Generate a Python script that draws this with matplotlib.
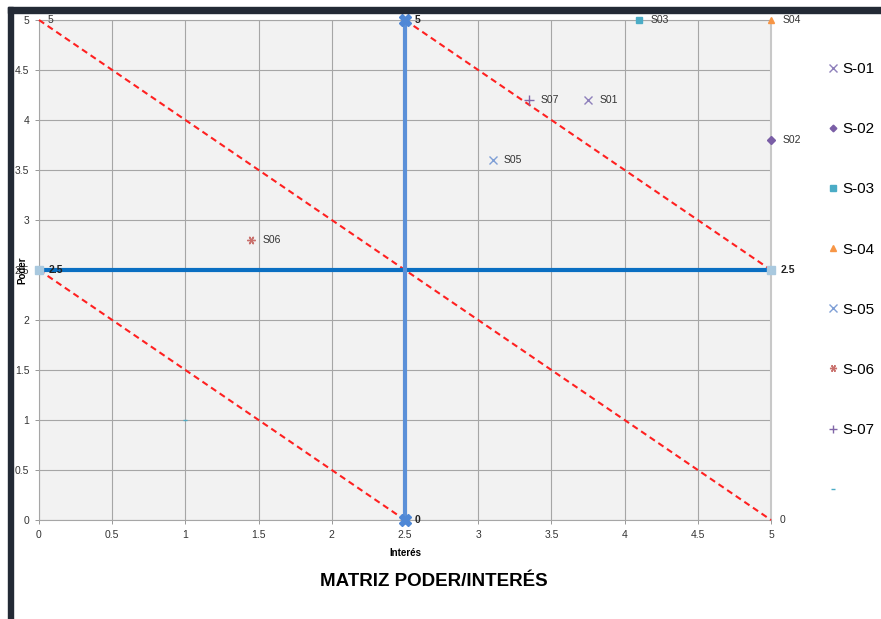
"""Matriz poder/interes de stakeholders (recreacion del grafico de Excel)."""

import matplotlib

matplotlib.use("Agg")
import matplotlib.pyplot as plt
from matplotlib.patches import Rectangle

# --- datos ---------------------------------------------------------------
stakeholders = ["S-01", "S-02", "S-03", "S-04", "S-05", "S-06", "S-07"]
point_labels = ["S01", "S02", "S03", "S04", "S05", "S06", "S07"]
interes = [3.75, 5.0, 4.1, 5.0, 3.1, 1.45, 3.35]
poder = [4.2, 3.8, 5.0, 5.0, 3.6, 2.8, 4.2]

extra_x = [1.0]
extra_y = [1.0]

# ejes de cuadrantes
vert_x = [2.5, 2.5]
vert_y = [5.0, 0.0]
horiz_x = [0.0, 5.0]
horiz_y = [2.5, 2.5]

# diagonales
diag_main_x = [0.0, 5.0]
diag_main_y = [5.0, 0.0]
diag_low_x = [0.0, 2.5]
diag_low_y = [2.5, 0.0]
diag_high_x = [2.5, 5.0]
diag_high_y = [5.0, 2.5]

ticks = [0, 0.5, 1, 1.5, 2, 2.5, 3, 3.5, 4, 4.5, 5]
tick_labels = ["0", "0.5", "1", "1.5", "2", "2.5", "3", "3.5", "4", "4.5", "5"]

# --- estilo --------------------------------------------------------------
colors = ["#8e80bb", "#7a5ea6", "#4bacc6", "#f79646", "#7f9fd6", "#c9706c", "#8066a8"]
markers = ["x", "D", "s", "^", "x", (6, 2, 30), "+"]
sizes = [6, 4, 5, 5, 6, 6, 7]
SANS = ["Liberation Sans", "DejaVu Sans"]

plt.rcParams["font.family"] = SANS

fig = plt.figure(figsize=(8.81, 6.19), dpi=100)
ax = fig.add_axes([39 / 881, 1 - 520 / 619, 732 / 881, 500 / 619])
ax.set_facecolor("#f2f2f2")
ax.set_xlim(0, 5)
ax.set_ylim(0, 5)
ax.set_xticks(ticks, tick_labels, fontsize=7.5)
ax.set_yticks(ticks, tick_labels, fontsize=7.5)
ax.tick_params(length=3, width=0.6, color="#888888", labelcolor="#333333", pad=4)
ax.grid(True, color="#a6a6a6", linewidth=0.8)
ax.set_axisbelow(True)
for side in ["top", "left", "bottom"]:
    ax.spines[side].set_color("#a6a6a6")
    ax.spines[side].set_linewidth(0.8)
ax.spines["right"].set_color("#c8c8c8")
ax.spines["right"].set_linewidth(1.5)

# diagonales rojas
for xs, ys in [(diag_main_x, diag_main_y), (diag_low_x, diag_low_y),
               (diag_high_x, diag_high_y)]:
    ax.plot(xs, ys, "--", color="#ff2020", lw=1.5, dashes=(3, 2), zorder=3,
            clip_on=False)
ax.annotate("5", (diag_main_x[0], diag_main_y[0]), xytext=(6, 0),
            textcoords="offset points", va="center", fontsize=7.5, color="#333333")
ax.annotate("0", (diag_main_x[1], diag_main_y[1]), xytext=(6, 0),
            textcoords="offset points", va="center", fontsize=7.5, color="#333333")

# ejes de cuadrantes
ax.plot(horiz_x, horiz_y, color="#0a6fc2", lw=3, marker="s", ms=6,
        mfc="#a9c9df", mec="#a9c9df", zorder=4, clip_on=False)
ax.plot(vert_x, vert_y, color="#5b90d8", lw=3, marker="X", ms=9,
        mfc="#4f88d6", mec="#4f88d6", zorder=4, clip_on=False)
for xv, yv, txt in [(vert_x[0], vert_y[0], "5"), (vert_x[1], vert_y[1], "0"),
                    (horiz_x[0], horiz_y[0], "2.5"), (horiz_x[1], horiz_y[1], "2.5")]:
    ax.annotate(txt, (xv, yv), xytext=(7, 0), textcoords="offset points",
                va="center", fontsize=7.5, fontweight="bold", color="#222222",
                zorder=6)

# stakeholders
handles = []
for name, lab, xv, yv, c, m, s in zip(stakeholders, point_labels, interes, poder,
                                      colors, markers, sizes):
    h, = ax.plot([xv], [yv], linestyle="none", marker=m, ms=s, color=c,
                 mec=c, mew=1, zorder=5, clip_on=False, label=name)
    handles.append(h)
    ax.annotate(lab, (xv, yv), xytext=(8, 0), textcoords="offset points",
                va="center", fontsize=7.5, color="#333333", zorder=6)
h_extra, = ax.plot(extra_x, extra_y, linestyle="none", marker="_", ms=3,
                   color="#4bacc6", zorder=5)
handles.append(h_extra)

fig.legend(handles, stakeholders + [" "], loc="upper left",
           bbox_to_anchor=(822 / 881, 1 - 56 / 619), frameon=False,
           fontsize=11, labelspacing=3.02, handlelength=0.6, handletextpad=0.35,
           markerscale=0.85, borderaxespad=0)

ax.set_xlabel("Interés", fontsize=7, fontweight="bold", labelpad=6)
fig.text(22 / 881, 1 - 270 / 619, "Poder", rotation=90, ha="center", va="center",
         fontsize=7, fontweight="bold")
fig.text(434 / 881, 1 - 582 / 619, "MATRIZ PODER/INTERÉS", ha="center",
         va="center", fontsize=13.5, fontweight="bold")

# marco oscuro de la captura
fig.patches.append(Rectangle((8 / 881, 0), 5 / 881, 1 - 7 / 619,
                             transform=fig.transFigure, color="#232a35"))
fig.patches.append(Rectangle((8 / 881, 1 - 13 / 619), 1, 6 / 619,
                             transform=fig.transFigure, color="#232a35"))

fig.savefig("out.png", dpi=100)
